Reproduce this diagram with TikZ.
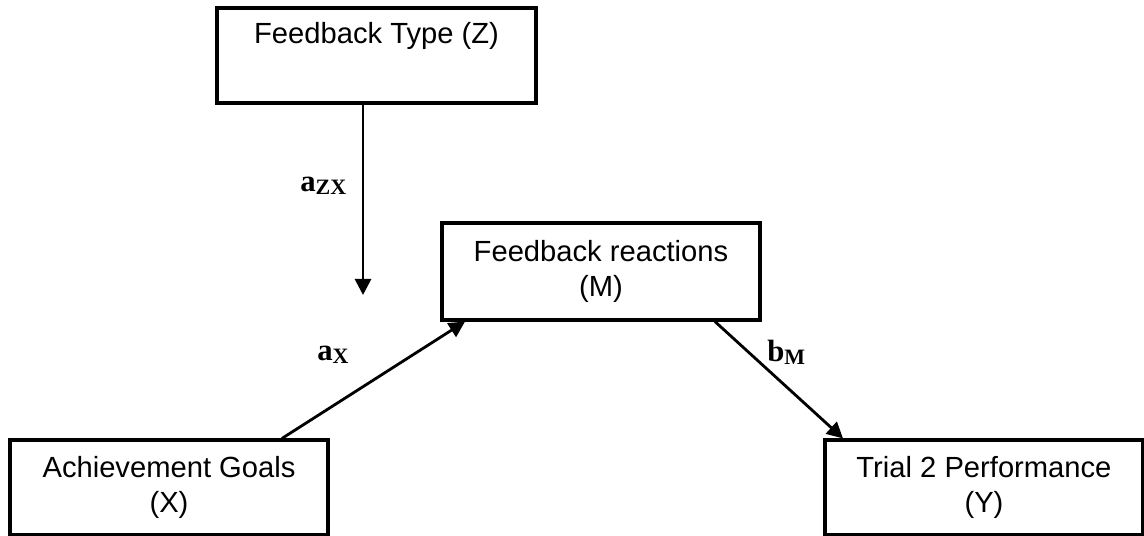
\documentclass[tikz,border=0pt]{standalone}
\usepackage{fontspec}
\setmainfont{Liberation Sans}
\newfontfamily\labserif{Liberation Serif}
\usetikzlibrary{arrows.meta}

\tikzset{
  varbox/.style={draw, line width=1.8pt, minimum width=6.36cm, minimum height=1.9cm,
    align=center, inner sep=0pt, font=\fontsize{16.6}{20}\selectfont},
  pathline/.style={line width=1.6pt, -{Triangle[length=0.32cm,width=0.32cm]}},
  coef/.style={anchor=base west, inner sep=0pt, font=\labserif\bfseries\fontsize{17.5}{20}\selectfont}
}
\newcommand{\coefsub}[2]{#1\raisebox{-0.06cm}{\fontsize{12.5}{14}\selectfont #2}}

\begin{document}
\begin{tikzpicture}[x=0.02cm, y=-0.02cm]
			\useasboundingbox (0,0) rectangle (1144,536);
			% variables
			\node[varbox, minimum width=6.38cm] (fbtype) at (376.5,55.5) {Feedback Type (Z)\\ \strut};
			\node[varbox, minimum height=1.94cm] (react) at (601,271.5) {Feedback reactions\\(M)};
			\node[varbox] (goals) at (169,487.5) {Achievement Goals\\(X)};
			\node[varbox] (perf) at (984,487.5) {Trial 2 Performance\\(Y)};
			% paths
			\coordinate (zxend) at (363,295);
			\draw[pathline] (fbtype.south -| zxend) -- (zxend);
			\draw[pathline] ([xshift=2.26cm]goals.north) -- ([xshift=-2.72cm]react.south);
			\draw[pathline] ([xshift=2.28cm]react.south) -- ([xshift=-2.82cm]perf.north);
			\node[coef] (azx) at (300,192) {\coefsub{a}{ZX}};
			\node[coef] (ax) at (317,361) {\coefsub{a}{X}};
			\node[coef] (bm) at (767,362) {\coefsub{b}{M}};
		\end{tikzpicture}
\end{document}
